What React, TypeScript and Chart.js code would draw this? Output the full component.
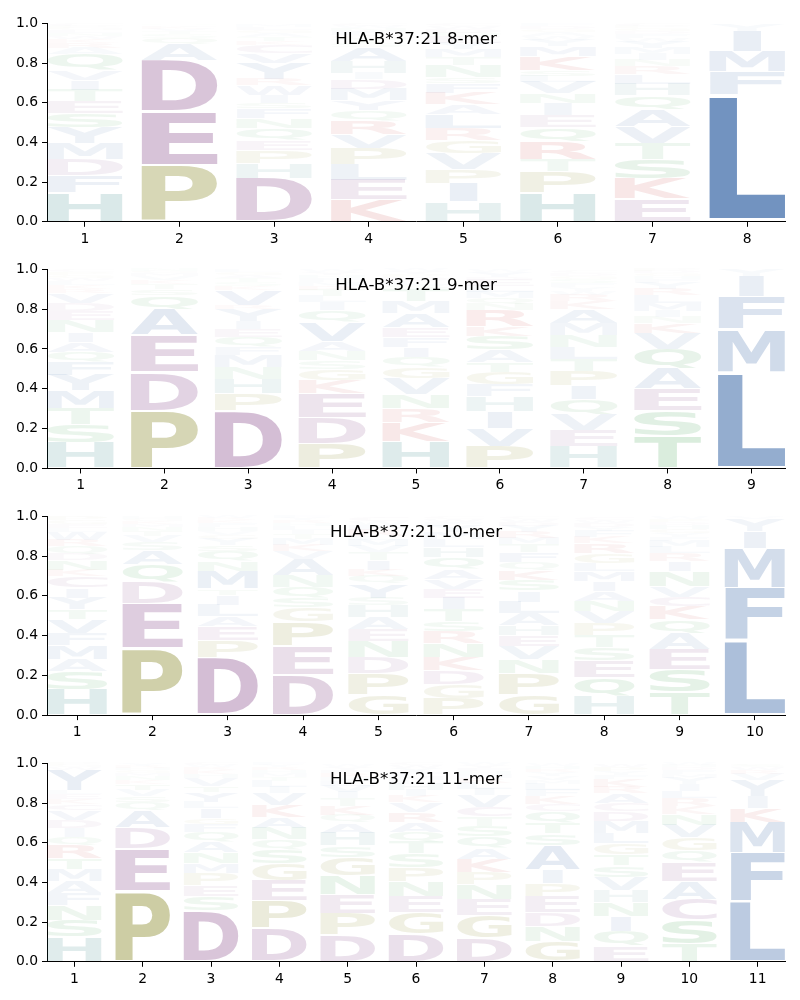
import React, { useEffect, useRef } from "react";
import { Chart, registerables } from "chart.js";

Chart.register(...registerables);

const ALLELE = "HLA-B*37:21";
const PEPTIDE_LENGTHS = [8, 9, 10, 11];
const Y_TICKS = [0, 0.2, 0.4, 0.6, 0.8, 1.0];

// Each column: letters stacked bottom -> top, with probability in percent.
const LOGO_8 = [
  "H15 F8.5 D8 M8 Y8 S7 E6 T6 I5 V5 Q8 A3 R2.5 K2 W1.5 N1.5 L1.5 G1 P1 C1",
  "P28.5 E27 D26 A8 Q3 S2 T1.5 V1.2 K1 G0.8 N0.5",
  "D22 H7.5 P6.5 E5 Q6 N5 F5 S3 I4 W5 R3 Y8 V5 C4 K2 T2 A2 G1.5 L1.5 M1",
  "K11 E10 L8 P8 V7 R7 Q5 Y5 M6 D5 I3 H6 A7 S2 T2 G2 F2 N1.5 W1 C1",
  "H10 I9.5 P7 V8 G6.5 R6 L7 A5 K6 F5 S3 N6 T4 M4 Y3 E3 Q2 D2 W1.5 C1",
  "H15 P10.5 T6 R9 Q7 E6 I6 N5 V6 L3 S3 K7 M5 Y3 W2 A2 G1.5 D1.5 F1 C0.5",
  "E11.5 K10 S10 T8 V8.5 A8.5 Q7 H6 L5 R4 N3 I3 M3 Y3 W2 F2 D1.5 G1.5 P1 C1",
  "L64 F11.5 M10.5 I10 Y3 V0.5",
];

const LOGO_9 = [
  "H13 S9 T8 M9 Y8 F6.5 Q5 A5 I5 N6 E4.5 D4 V5 R2 K2 L2 W1.5 G1.5 P1.5 C1",
  "P29 D19.5 E18.5 A13 Q7 S3 T2.5 K2 V2 M1.5 G1 N1",
  "D29 P8.5 H7.5 N6 M6 F4 Q5 E4 I4 Y6 R2 V7.5 K2 S2 T2 A1.5 G1.5 L1 W0.5",
  "P12.5 D13 E12 K6.5 G6 S4.5 N4.5 A5 V9.5 Q6 I4 L3 T3 R2 M2 F2 H1.5 Y1.5 W1",
  "H13.5 K9.5 R7 N7 V8 G6 Q5 I5 F5 E5 A7 M6 T6 S2 L2 D2 P1.5 Y1.5 W1",
  "P11 V9 I8.5 H7.5 F6 G6.5 T5 A6 S7 K5 R8 N3 Q3 M3 L3 E3 D1.5 Y2.5 W1",
  "H11 E8 V8 Q7.5 I7 P7.5 T6 L6 N6 M6 A7 K4 R3 W2 Y2 F2 S2 G1.5 D1.5 C1",
  "T16 S13 E11 A10 Q10 V8 K5 N3 I3 M4 L4 R3 Y3 F2 H1.5 G1.5 D1 P1",
  "L48.5 M21.5 F16.5 I10 Y3 V0.5",
];

const LOGO_10 = [
  "H13 S9 A6 M7 F6 V7 T5 Y6 I5 C6 K3 N5 D3 Q4 R3 W4 L2 E2 G2 P2",
  "P33.5 E22.5 D11 Q9 A7 S4 V3 T2.5 N2 M1.5 K1.5 G1 H1",
  "D29 P8.5 E7 A5 L6 I5 T3 M9 N5 Q5 S3 Y3 G2 V2 H2 F2 K1.5 R1 W1",
  "D20.5 E14.5 P12 G7 S5 Q5.5 N6 A8 V4 K3 M3 T2.5 I2 L2 H1.5 R1.5 Y1 F1",
  "G10.5 P10.5 D8 N8 E6 A6 H6 S4 Y7 Q4 K3 I5 T4 V3 M3 L2 R3 F2.5 W2 C2",
  "P8.5 G7 D7 K6.5 N7 R6 S5 T6 I6 E4.5 V5 A5 Q6 H5 L4 M3.5 Y3 F2 W1.5 C1",
  "G10.5 P10.5 N7 V6.5 E5.5 H5 A6 L6 I5.5 S5.5 K5 Q4 F5 T4 M3 R3 Y3 D2 W1.5 C1",
  "H9.5 Q9.5 E8.5 S6.5 T6 P6 V6 N5.5 A5 I5 M5 L4 G5 R5 K3 F3 Y2 D2 W1.5 C1.5",
  "T11.5 S11.5 E10 A8 Q7 K6.5 C5 V5.5 N7.5 I5 R4 L3 M3 F2 Y2 G2 H2 D1.5 P1.5 W1",
  "L37.5 F26.5 M20 I8.5 Y6 V1",
];

const LOGO_11 = [
  "H12.5 S8.5 N7.5 F6 A6 M6 T5.5 R6.5 Q4.5 I4.5 D4 V5 C3 K2.5 E2.5 L2 Y10 W1.5 G1 P1",
  "P35.5 E21.5 D10.5 A8.5 Q4.5 S3 V3 T3 K2 N2 M1.5 G1.5 H1 R1 Y1",
  "D26 S7 E5.5 P6 M5 N5.5 A5.5 Q5 F4 G3 I5 L3 Y5 T3 V4 H2 K2 R1.5 W1 C1",
  "D17 P14 E10 G8.5 S7 Q5 N6 A5.5 K6 V6 I3 L3 T2 M2 H1.5 R1.5 Y1 F1",
  "D13.5 P11 E9.5 N9.5 G9 S6 H6.5 A5 Q4 K4.5 T4 I3 V3 L2.5 M2 R2 F1.5 Y1.5 W1",
  "D14 G11 E8 N7.5 P7 S7 T6 Q5 A5 R5 V5 K3 I3 H3 L2 M2 F2 Y2 W1.5 C1",
  "D12 G11.5 E8 N7.5 P6 K6.5 A5.5 Q6 S5.5 T4.5 C5 V6 I3 L3 R2.5 M2 H1.5 F1.5 Y1.5 W1",
  "G10.5 N7.5 D7 E8 P6.5 I7 A12 S6 T5.5 Q6 C3.5 K4 F3 L3 M2 V2 Y2 R1.5 H1.5 W1",
  "E8 Q7.5 I7.5 N7 H6 V6.5 S6 T5.5 G5.5 L5.5 M6 D5 C4 A5 R3 K4 F2 Y2 P2 W1.5",
  "T9 S12 C10.5 A9 E9.5 Q6 G6.5 V6.5 N5.5 K4 R4 L3.5 I3.5 Y3 M2 F2 D1.5 H1 W1",
  "L30.5 F24.5 M15.5 K7 I6 Y8 V3 R2 W1.5 S1.5",
];

const LOGOS = [LOGO_8, LOGO_9, LOGO_10, LOGO_11];

// Base colours by residue group; opacity equals the letter's probability.
const BLUE = [35, 86, 156];
const PURPLE = [108, 32, 110];
const RED = [185, 15, 15];
const TEAL = [10, 105, 105];
const GREEN = [25, 140, 45];
const OLIVE = [115, 115, 0];

const COLOR_GROUPS: [string, number[]][] = [
  ["AVLIMFWY", BLUE],
  ["DEC", PURPLE],
  ["KR", RED],
  ["H", TEAL],
  ["STNQ", GREEN],
  ["PG", OLIVE],
];

function colorFor(letter: string, p: number): string {
  let c = BLUE;
  for (const [letters, col] of COLOR_GROUPS) {
    if (letters.includes(letter)) c = col;
  }
  const a = Math.max(0, Math.min(1, p));
  return `rgba(${c[0]},${c[1]},${c[2]},${a})`;
}

const FONT = "'DejaVu Sans', 'Liberation Sans', sans-serif";
const GLYPH_FONT = "bold 200px 'DejaVu Sans'";
const VPAD = 0.05;

type Metrics = { left: number; right: number; ascent: number; descent: number };
const metricCache: Record<string, Metrics> = {};
function glyphMetrics(ctx: CanvasRenderingContext2D, letter: string): Metrics {
  if (metricCache[letter]) return metricCache[letter];
  ctx.save();
  ctx.font = GLYPH_FONT;
  ctx.textAlign = "left";
  ctx.textBaseline = "alphabetic";
  const m = ctx.measureText(letter);
  ctx.restore();
  const res = {
    left: m.actualBoundingBoxLeft,
    right: m.actualBoundingBoxRight,
    ascent: m.actualBoundingBoxAscent,
    descent: m.actualBoundingBoxDescent,
  };
  metricCache[letter] = res;
  return res;
}

const logoPlugin = {
  id: "logoLetters",
  afterDatasetsDraw(chart: any) {
    const ctx: CanvasRenderingContext2D = chart.ctx;
    const eM = glyphMetrics(ctx, "E");
    const eWidth = eM.left + eM.right;
    chart.data.datasets.forEach((ds: any, di: number) => {
      const meta = chart.getDatasetMeta(di);
      meta.data.forEach((bar: any, j: number) => {
        const letter: string = ds.letters[j];
        const p: number = ds.data[j].y;
        const top = Math.min(bar.y, bar.base);
        const bottom = Math.max(bar.y, bar.base);
        const hPx = bottom - top;
        if (hPx <= 0.05) return;
        const pad = (VPAD * hPx) / 2;
        const y0 = top + pad;
        const y1 = bottom - pad;
        const boxW = bar.width;
        const m = glyphMetrics(ctx, letter);
        const gw = m.left + m.right;
        const gh = m.ascent + m.descent;
        const sx = Math.min(boxW / gw, boxW / eWidth);
        const sy = (y1 - y0) / gh;
        const drawnW = gw * sx;
        const x0 = bar.x - drawnW / 2;
        ctx.save();
        ctx.font = GLYPH_FONT;
        ctx.textAlign = "left";
        ctx.textBaseline = "alphabetic";
        ctx.fillStyle = colorFor(letter, p);
        ctx.translate(x0, y0);
        ctx.scale(sx, sy);
        ctx.fillText(letter, m.left, m.ascent);
        ctx.restore();
      });
    });
  },
};

const titlePlugin = {
  id: "innerTitle",
  afterDraw(chart: any) {
    const { ctx, chartArea } = chart;
    const text = chart.options.plugins.innerTitle.text;
    ctx.save();
    ctx.font = `16.67px ${FONT}`;
    ctx.fillStyle = "#000";
    ctx.textAlign = "center";
    ctx.textBaseline = "alphabetic";
    ctx.fillText(text, (chartArea.left + chartArea.right) / 2, chartArea.top + 20.7);
    ctx.restore();
  },
};

const CANVAS_W = 800;
const CANVAS_H = 250;
const PLOT_LEFT = 47;
const PLOT_RIGHT = 785;
const PLOT_H = 200.8;
const PANEL_STEP = 246.67;
const FIRST_TOP = 21;

function LogoPanel({ index }: { index: number }) {
  const ref = useRef<HTMLCanvasElement | null>(null);
  const n = PEPTIDE_LENGTHS[index];
  const plotTop = FIRST_TOP + PANEL_STEP * index;
  const canvasTop = Math.floor(plotTop) - 10;
  const padTop = plotTop - canvasTop;

  useEffect(() => {
    if (!ref.current) return;
    const columns = LOGOS[index].map((col) =>
      col.split(" ").map((tok) => ({ letter: tok[0], p: parseFloat(tok.slice(1)) / 100 }))
    );
    const maxLevels = Math.max(...columns.map((c) => c.length));
    const datasets: any[] = [];
    for (let l = 0; l < maxLevels; l++) {
      const data: { x: number; y: number }[] = [];
      const letters: string[] = [];
      columns.forEach((col, ci) => {
        if (col[l]) {
          data.push({ x: ci + 1, y: col[l].p });
          letters.push(col[l].letter);
        }
      });
      datasets.push({
        label: `level ${l}`,
        data,
        letters,
        backgroundColor: "rgba(0,0,0,0)",
        borderWidth: 0,
        categoryPercentage: 1,
        barPercentage: 0.8,
      });
    }
    const positions = Array.from({ length: n }, (_, i) => i + 1);
    const xAxisHeight = CANVAS_H - padTop - PLOT_H;
    const tickFont = { family: FONT, size: 13.9 };

    const chart = new Chart(ref.current, {
      type: "bar",
      data: { datasets },
      options: {
        animation: false,
        responsive: false,
        maintainAspectRatio: false,
        devicePixelRatio: 1,
        layout: { padding: { top: padTop, left: 0, right: CANVAS_W - PLOT_RIGHT, bottom: 0 } },
        plugins: {
          legend: { display: false },
          tooltip: { enabled: false },
          title: { display: false },
          innerTitle: { text: `${ALLELE} ${n}-mer` },
        } as any,
        scales: {
          x: {
            type: "linear",
            min: 0.6,
            max: n + 0.4,
            stacked: true,
            offset: false,
            afterBuildTicks: (s: any) => {
              s.ticks = positions.map((v) => ({ value: v }));
            },
            afterFit: (s: any) => {
              s.height = xAxisHeight;
            },
            ticks: {
              autoSkip: false,
              maxRotation: 0,
              padding: 4,
              color: "#000",
              font: tickFont,
              callback: (v: any) => String(v),
            },
            grid: {
              display: true,
              offset: false,
              drawOnChartArea: false,
              drawTicks: true,
              tickLength: 5,
              tickColor: "#000",
              tickWidth: 1,
            },
            border: { display: true, color: "#000", width: 1 },
          },
          y: {
            type: "linear",
            min: 0,
            max: 1,
            stacked: true,
            afterBuildTicks: (s: any) => {
              s.ticks = Y_TICKS.map((v) => ({ value: v }));
            },
            afterFit: (s: any) => {
              s.width = PLOT_LEFT;
            },
            ticks: {
              padding: 4,
              color: "#000",
              font: tickFont,
              callback: (v: any) => Number(v).toFixed(1),
            },
            grid: {
              display: true,
              drawOnChartArea: false,
              drawTicks: true,
              tickLength: 5,
              tickColor: "#000",
              tickWidth: 1,
            },
            border: { display: true, color: "#000", width: 1 },
          },
        } as any,
      },
      plugins: [logoPlugin, titlePlugin],
    } as any);
    return () => chart.destroy();
  }, [index]);

  return (
    <canvas
      ref={ref}
      width={CANVAS_W}
      height={CANVAS_H}
      style={{ position: "absolute", left: 0, top: canvasTop, width: CANVAS_W, height: CANVAS_H }}
    />
  );
}

export default function App() {
  return (
    <div style={{ position: "absolute", left: 0, top: 0, width: 800, height: 1000, background: "#fff" }}>
      {PEPTIDE_LENGTHS.map((_, i) => (
        <LogoPanel key={i} index={i} />
      ))}
    </div>
  );
}
